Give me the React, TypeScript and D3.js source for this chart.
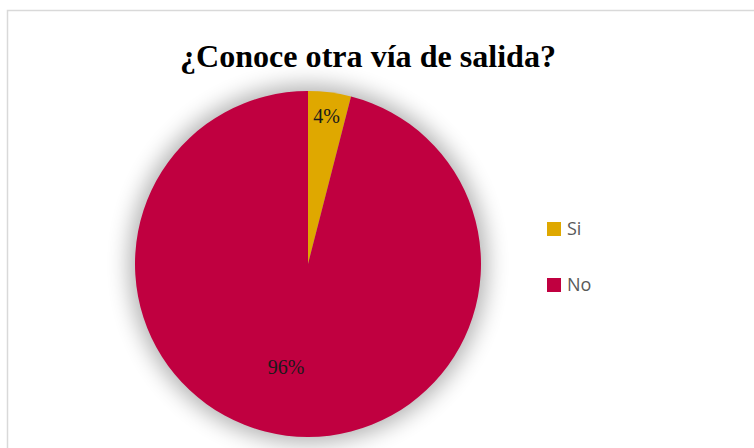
import * as d3 from 'd3';
import { useEffect, useRef } from "react";

const categories = ['Si', 'No'];
const values = [4, 96];
const colors = ['#DFA800', '#C00040'];

const WIDTH = 754;
const HEIGHT = 448;
const CX = 308;
const CY = 264;
const RADIUS = 173;

export default function App() {
    const ref = useRef(null);
    useEffect(() => {
        if (!ref.current) return;
        const svg = d3.select(ref.current);
        svg.selectAll("*").remove();

        // soft shadow round the pie
        const defs = svg.append('defs');
        const filter = defs.append('filter')
            .attr('id', 'glow')
            .attr('x', '-30%').attr('y', '-30%')
            .attr('width', '160%').attr('height', '160%');
        filter.append('feGaussianBlur').attr('stdDeviation', 11);

        svg.append('rect')
            .attr('width', WIDTH).attr('height', HEIGHT)
            .attr('fill', 'white');

        // chart border, cut by the window at right and bottom
        svg.append('rect')
            .attr('x', 7.5).attr('y', 10.5)
            .attr('width', WIDTH + 20).attr('height', HEIGHT + 20)
            .attr('fill', 'white')
            .attr('stroke', '#D9D9D9')
            .attr('stroke-width', 1.5);

        svg.append('text')
            .attr('x', 368)
            .attr('y', 67)
            .attr('text-anchor', 'middle')
            .attr('textLength', 376)
            .attr('lengthAdjust', 'spacingAndGlyphs')
            .style('font-family', '"Liberation Serif", "Times New Roman", serif')
            .style('font-weight', 'bold')
            .style('font-size', '31px')
            .attr('fill', '#000')
            .text('¿Conoce otra vía de salida?');

        const g = svg.append('g')
            .attr('transform', `translate(${CX}, ${CY})`);

        g.append('circle')
            .attr('r', RADIUS + 6)
            .attr('fill', '#000')
            .attr('opacity', 0.3)
            .attr('filter', 'url(#glow)');

        const data = categories.map((c, i) => ({ label: c, value: values[i], color: colors[i] }));
        const pie = d3.pie<typeof data[0]>().value(d => d.value).sort(null);
        const arc = d3.arc<d3.PieArcDatum<typeof data[0]>>()
            .innerRadius(0)
            .outerRadius(RADIUS);
        const labelArc = d3.arc<d3.PieArcDatum<typeof data[0]>>()
            .innerRadius(RADIUS * 0.86)
            .outerRadius(RADIUS * 0.86);

        const arcs = pie(data);
        g.selectAll('.arc')
            .data(arcs)
            .enter()
            .append('path')
            .attr('class', 'arc')
            .attr('d', arc)
            .attr('fill', d => d.data.color);

        const total = d3.sum(values);
        g.selectAll('.lbl')
            .data(arcs)
            .enter()
            .append('text')
            .attr('class', 'lbl')
            .attr('x', (d, i) => i === 0 ? labelArc.centroid(d)[0] : -22)
            .attr('y', (d, i) => i === 0 ? labelArc.centroid(d)[1] : 103)
            .attr('dy', '0.35em')
            .attr('text-anchor', 'middle')
            .style('font-family', '"Liberation Serif", "Times New Roman", serif')
            .style('font-size', '20px')
            .attr('fill', '#1a1a1a')
            .text(d => `${Math.round(d.data.value / total * 100)}%`);

        // legend
        const legend = svg.append('g');
        const ly = d3.scalePoint<string>().domain(categories).range([229, 285]);
        const items = legend.selectAll('g')
            .data(data)
            .enter()
            .append('g')
            .attr('transform', d => `translate(547, ${ly(d.label)})`);
        items.append('rect')
            .attr('x', 0).attr('y', -7)
            .attr('width', 14).attr('height', 14)
            .attr('fill', d => d.color);
        items.append('text')
            .attr('x', 20)
            .attr('y', 0)
            .attr('dy', '0.35em')
            .style('font-family', '"Open Sans", "Liberation Sans", sans-serif')
            .style('font-size', '18px')
            .attr('fill', '#595959')
            .text(d => d.label);
    }, []);

    return (
        <svg ref={ref} width={WIDTH} height={HEIGHT}
            style={{ position: 'absolute', left: 0, top: 0, display: 'block' }}></svg>
    );
}
